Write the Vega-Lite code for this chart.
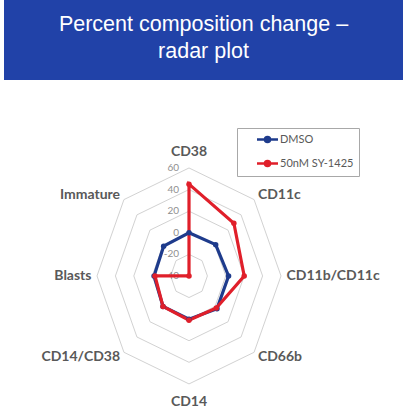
{
  "$schema": "https://vega.github.io/schema/vega-lite/v6.json",
  "padding": {"left": 4, "top": 0, "right": 0, "bottom": 0},
  "background": "white",
  "spacing": 6,
  "config": {"view": {"stroke": null}},
  "datasets": {
    "series": [
      {"series": "DMSO", "cat": "CD38", "v": 0},
      {"series": "DMSO", "cat": "CD11c", "v": 1},
      {"series": "DMSO", "cat": "CD11b/CD11c", "v": 3},
      {"series": "DMSO", "cat": "CD66b", "v": 3},
      {"series": "DMSO", "cat": "CD14", "v": 0},
      {"series": "DMSO", "cat": "CD14/CD38", "v": 0},
      {"series": "DMSO", "cat": "Blasts", "v": -2},
      {"series": "DMSO", "cat": "Immature", "v": -1},
      {"series": "50nM SY-1425", "cat": "CD38", "v": 45},
      {"series": "50nM SY-1425", "cat": "CD11c", "v": 29},
      {"series": "50nM SY-1425", "cat": "CD11b/CD11c", "v": 20},
      {"series": "50nM SY-1425", "cat": "CD66b", "v": 2},
      {"series": "50nM SY-1425", "cat": "CD14", "v": 1},
      {"series": "50nM SY-1425", "cat": "CD14/CD38", "v": 0},
      {"series": "50nM SY-1425", "cat": "Blasts", "v": -3},
      {"series": "50nM SY-1425", "cat": "Immature", "v": -40}
    ],
    "rings": [
      {"level": -20, "i": [0, 1, 2, 3, 4, 5, 6, 7]},
      {"level": 0, "i": [0, 1, 2, 3, 4, 5, 6, 7]},
      {"level": 20, "i": [0, 1, 2, 3, 4, 5, 6, 7]},
      {"level": 40, "i": [0, 1, 2, 3, 4, 5, 6, 7]},
      {"level": 60, "i": [0, 1, 2, 3, 4, 5, 6, 7]}
    ],
    "ticks": [
      {"level": -40}, {"level": -20}, {"level": 0}, {"level": 20}, {"level": 40}, {"level": 60}
    ],
    "cats": [
      {"cat": "CD38"}, {"cat": "CD11c"}, {"cat": "CD11b/CD11c"}, {"cat": "CD66b"},
      {"cat": "CD14"}, {"cat": "CD14/CD38"}, {"cat": "Blasts"}, {"cat": "Immature"}
    ],
    "title": [
      {"line": 1, "text": "Percent composition change –"},
      {"line": 2, "text": "radar plot"}
    ]
  },
  "vconcat": [
    {
      "width": 399,
      "height": 80,
      "view": {"fill": "#2142a8", "stroke": null},
      "data": {"name": "title"},
      "mark": {"type": "text", "font": "Liberation Sans", "fontSize": 21.5, "color": "white", "baseline": "alphabetic", "align": "center"},
      "encoding": {
        "y": {"field": "line", "type": "ordinal", "axis": null, "scale": {"type": "point", "padding": 0.981, "align": 0.585}},
        "text": {"field": "text"}
      }
    },
    {
      "width": 399,
      "height": 326,
      "view": {"stroke": null},
      "layer": [
        {
          "data": {"name": "rings"},
          "transform": [
            {"flatten": ["i"]},
            {"calculate": "(datum.level + 40) * sin(datum.i * PI / 4)", "as": "X"},
            {"calculate": "(datum.level + 40) * cos(datum.i * PI / 4)", "as": "Y"}
          ],
          "mark": {"type": "line", "interpolate": "linear-closed", "stroke": "#d2d2d2", "strokeWidth": 1},
          "encoding": {
            "x": {"field": "X", "type": "quantitative", "axis": null, "scale": {"domain": [-201.1, 232.6], "nice": false, "zero": false}},
            "y": {"field": "Y", "type": "quantitative", "axis": null, "scale": {"domain": [-126.0, 175.9], "nice": false, "zero": false}},
            "detail": {"field": "level"},
            "order": {"field": "i"}
          }
        },
        {
          "data": {"name": "ticks"},
          "transform": [
            {"calculate": "0", "as": "X"},
            {"calculate": "datum.level + 40", "as": "Y"}
          ],
          "mark": {"type": "text", "align": "right", "baseline": "middle", "dx": -10, "font": "Lato", "fontSize": 10, "color": "#8f8f8f"},
          "encoding": {
            "x": {"field": "X", "type": "quantitative"},
            "y": {"field": "Y", "type": "quantitative"},
            "text": {"field": "level"}
          }
        },
        {
          "data": {"name": "series"},
          "transform": [
            {"calculate": "indexof(['CD38','CD11c','CD11b/CD11c','CD66b','CD14','CD14/CD38','Blasts','Immature'], datum.cat)", "as": "i"},
            {"calculate": "(datum.v + 40) * sin(datum.i * PI / 4)", "as": "X"},
            {"calculate": "(datum.v + 40) * cos(datum.i * PI / 4)", "as": "Y"}
          ],
          "layer": [
            {
              "mark": {"type": "line", "interpolate": "linear-closed", "strokeWidth": 3.2},
              "encoding": {
                "x": {"field": "X", "type": "quantitative"},
                "y": {"field": "Y", "type": "quantitative"},
                "order": {"field": "i"},
                "color": {
                  "field": "series", "type": "nominal",
                  "scale": {"domain": ["DMSO", "50nM SY-1425"], "range": ["#1e3b8c", "#e01f2a"]},
                  "legend": {
                    "orient": "none", "legendX": 233, "legendY": 128, "title": null,
                    "direction": "vertical",
                    "symbolType": "M-2.1,0H2.1M0.5,0A0.5,0.5,0,1,1,-0.5,0A0.5,0.5,0,1,1,0.5,0",
                    "symbolSize": 100, "symbolStrokeWidth": 2.5, "symbolOffset": 19,
                    "labelOffset": 6, "padding": 5, "rowPadding": 9,
                    "strokeColor": "#a8a8a8", "fillColor": "white",
                    "labelFont": "Lato", "labelFontSize": 11, "labelColor": "#595959",
                    "encode": {"symbols": {"update": {"fill": {"scale": "color", "field": "value"}, "stroke": {"scale": "color", "field": "value"}}}}
                  }
                }
              }
            },
            {
              "mark": {"type": "point", "filled": true, "size": 30, "opacity": 1},
              "encoding": {
                "x": {"field": "X", "type": "quantitative"},
                "y": {"field": "Y", "type": "quantitative"},
                "color": {"field": "series", "type": "nominal"}
              }
            }
          ]
        },
        {
          "data": {"name": "cats"},
          "transform": [
            {"calculate": "indexof(['CD38','CD11c','CD11b/CD11c','CD66b','CD14','CD14/CD38','Blasts','Immature'], datum.cat)", "as": "i"},
            {"calculate": "datum.i == 0 ? 115 : datum.i == 4 ? 117 : 106", "as": "L"},
            {"calculate": "datum.L * sin(datum.i * PI / 4)", "as": "X"},
            {"calculate": "datum.L * cos(datum.i * PI / 4)", "as": "Y"}
          ],
          "layer": [
            {
              "transform": [{"filter": "datum.i == 0 || datum.i == 4"}],
              "mark": {"type": "text", "align": "center", "baseline": "middle", "font": "Lato", "fontWeight": "bold", "fontSize": 14, "color": "#595959"},
              "encoding": {
                "x": {"field": "X", "type": "quantitative"},
                "y": {"field": "Y", "type": "quantitative"},
                "text": {"field": "cat"}
              }
            },
            {
              "transform": [{"filter": "datum.i >= 1 && datum.i <= 3"}],
              "mark": {"type": "text", "align": "left", "baseline": "middle", "font": "Lato", "fontWeight": "bold", "fontSize": 14, "color": "#595959"},
              "encoding": {
                "x": {"field": "X", "type": "quantitative"},
                "y": {"field": "Y", "type": "quantitative"},
                "text": {"field": "cat"}
              }
            },
            {
              "transform": [{"filter": "datum.i >= 5"}],
              "mark": {"type": "text", "align": "right", "baseline": "middle", "font": "Lato", "fontWeight": "bold", "fontSize": 14, "color": "#595959"},
              "encoding": {
                "x": {"field": "X", "type": "quantitative"},
                "y": {"field": "Y", "type": "quantitative"},
                "text": {"field": "cat"}
              }
            }
          ]
        }
      ]
    }
  ]
}
